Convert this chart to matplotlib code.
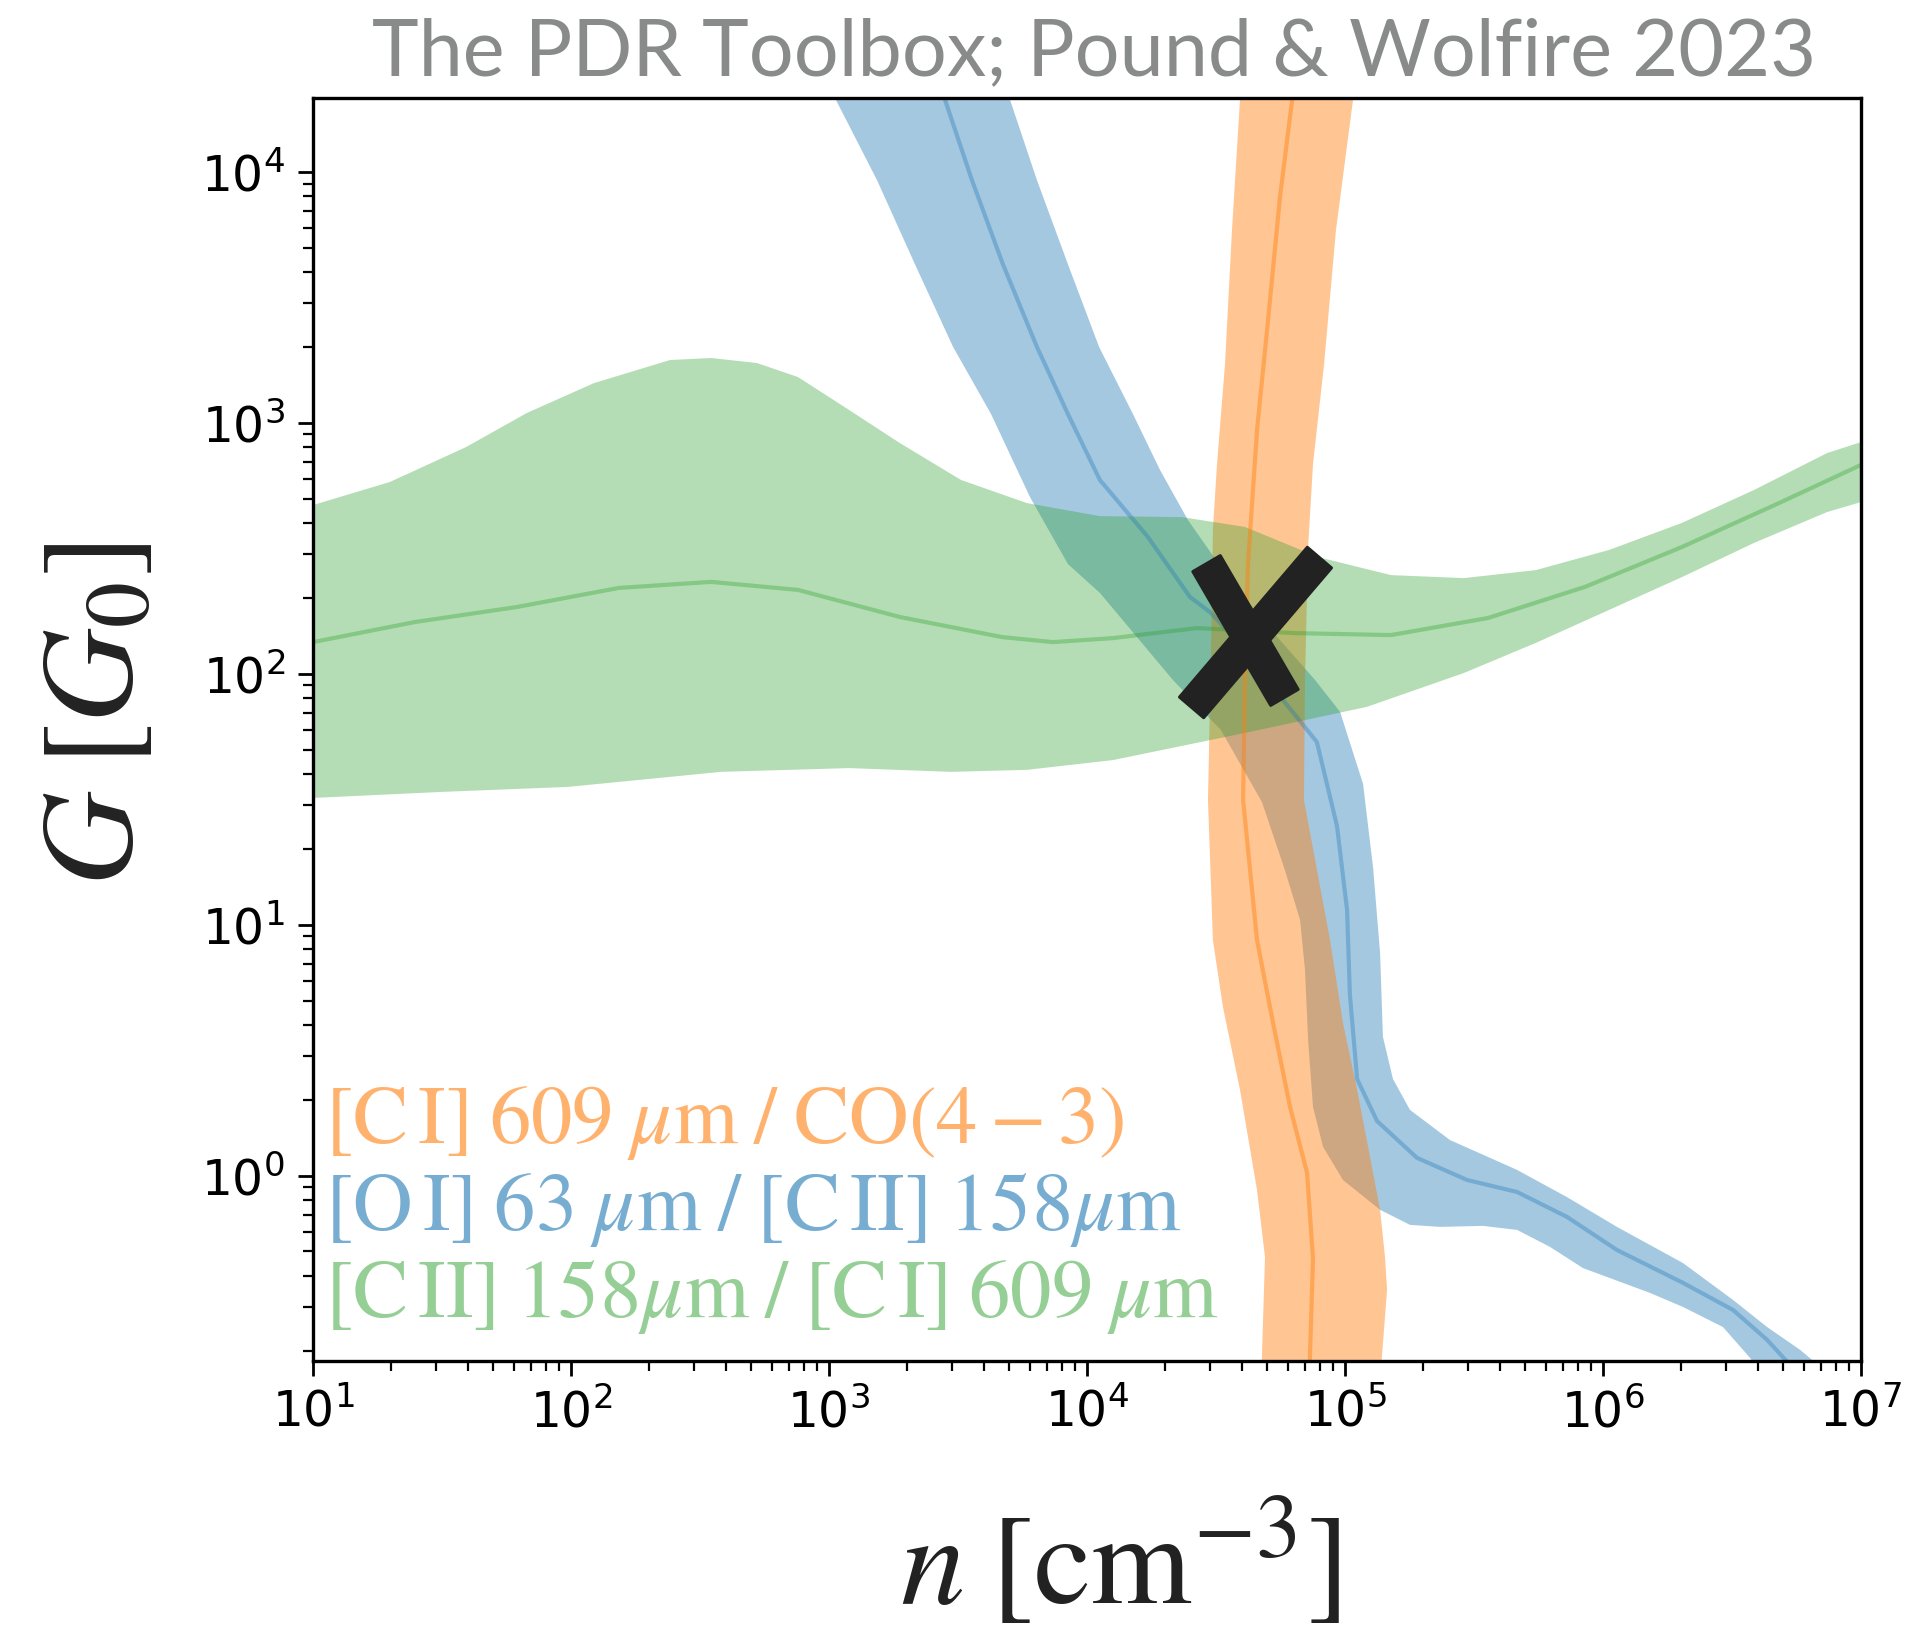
import numpy as np
import matplotlib
matplotlib.use("Agg")
import matplotlib.pyplot as plt
from matplotlib.path import Path
from matplotlib.ticker import LogLocator, NullFormatter

# values, stored as log10(n [cm^-3]) and log10(G [G0])

# [C I] 609um / CO(4-3)  -- orange, nearly vertical band
ci_co_left_logn = [4.601, 4.593, 4.562, 4.535, 4.504, 4.488, 4.481, 4.469, 4.488, 4.527, 4.593, 4.659, 4.690, 4.678, 4.674]
ci_co_left_logG = [4.367, 4.287, 3.769, 3.235, 2.837, 2.574, 2.108, 1.498, 0.940, 0.673, 0.343, -0.056, -0.323, -0.721, -0.813]
ci_co_right_logn = [5.039, 5.031, 4.965, 4.919, 4.876, 4.857, 4.845, 4.841, 4.942, 4.992, 5.047, 5.097, 5.136, 5.155, 5.163, 5.143, 5.136]
ci_co_right_logG = [4.367, 4.287, 3.769, 3.235, 2.837, 2.506, 1.976, 1.498, 0.940, 0.610, 0.343, 0.076, -0.135, -0.323, -0.454, -0.721, -0.813]
ci_co_mid_logn = [4.798, 4.795, 4.748, 4.698, 4.659, 4.624, 4.612, 4.605, 4.659, 4.721, 4.787, 4.853, 4.876, 4.864, 4.864]
ci_co_mid_logG = [4.367, 4.287, 3.900, 3.371, 2.972, 2.438, 1.976, 1.498, 0.940, 0.610, 0.275, 0.012, -0.331, -0.721, -0.813]

# [O I] 63um / [C II] 158um  -- blue band
oi_cii_left_logn = [3.004, 3.027, 3.186, 3.333, 3.481, 3.628, 3.779, 3.926, 4.050, 4.333, 4.519, 4.678, 4.767, 4.826,
                    4.845, 4.857, 4.876, 4.915, 4.992, 5.136, 5.252, 5.368, 5.535, 5.667, 5.795, 5.922, 6.182, 6.310,
                    6.465, 6.570, 6.647]
oi_cii_left_logG = [4.367, 4.287, 3.968, 3.633, 3.303, 3.036, 2.705, 2.438, 2.323, 1.976, 1.777, 1.490, 1.219, 1.020,
                    0.821, 0.542, 0.275, 0.116, -0.016, -0.135, -0.195, -0.203, -0.199, -0.215, -0.283, -0.367, -0.466,
                    -0.522, -0.602, -0.725, -0.833]
oi_cii_right_logn = [3.729, 3.702, 3.806, 3.926, 4.047, 4.178, 4.283, 4.391, 4.554, 4.748, 4.884, 4.981, 5.070, 5.109,
                     5.136, 5.147, 5.186, 5.252, 5.407, 5.667, 5.860, 6.054, 6.310, 6.504, 6.636, 6.764, 6.880]
oi_cii_right_logG = [4.367, 4.287, 3.968, 3.633, 3.303, 3.036, 2.813, 2.614, 2.375, 2.135, 1.976, 1.849, 1.562, 1.227,
                     0.888, 0.554, 0.386, 0.263, 0.143, 0.024, -0.084, -0.203, -0.347, -0.494, -0.602, -0.693, -0.793]
oi_cii_mid_logn = [3.430, 3.450, 3.554, 3.674, 3.806, 3.926, 4.050, 4.236, 4.399, 4.481, 4.593, 4.709, 4.760, 4.891,
                   4.969, 5.008, 5.019, 5.047, 5.124, 5.279, 5.473, 5.667, 5.860, 6.054, 6.310, 6.504, 6.636, 6.725]
oi_cii_mid_logG = [4.367, 4.287, 3.968, 3.633, 3.303, 3.036, 2.773, 2.546, 2.307, 2.243, 2.116, 1.976, 1.896, 1.729,
                   1.394, 1.060, 0.721, 0.386, 0.219, 0.072, -0.016, -0.064, -0.163, -0.295, -0.426, -0.534, -0.653,
                   -0.753]

# [C II] 158um / [C I] 609um  -- green band
cii_ci_upper_logn = [1.0, 1.298, 1.593, 1.829, 2.089, 2.384, 2.543, 2.721, 2.880, 3.078, 3.275, 3.512, 3.767, 4.050,
                     4.368, 4.612, 4.895, 5.178, 5.461, 5.740, 6.023, 6.306, 6.585, 6.868, 7.0]
cii_ci_upper_logG = [2.673, 2.765, 2.904, 3.040, 3.159, 3.251, 3.259, 3.239, 3.183, 3.052, 2.920, 2.773, 2.681, 2.629,
                     2.625, 2.586, 2.466, 2.394, 2.382, 2.414, 2.494, 2.602, 2.733, 2.880, 2.924]
cii_ci_lower_logn = [1.0, 1.496, 1.988, 2.581, 3.078, 3.473, 3.767, 4.101, 4.612, 5.085, 5.461, 5.740, 6.023, 6.306,
                     6.585, 6.868, 7.0]
cii_ci_lower_logG = [1.506, 1.530, 1.550, 1.610, 1.625, 1.610, 1.618, 1.657, 1.765, 1.869, 2.004, 2.124, 2.255, 2.386,
                     2.522, 2.645, 2.685]
cii_ci_mid_logn = [1.0, 1.395, 1.791, 2.186, 2.543, 2.880, 3.275, 3.671, 3.868, 4.101, 4.426, 4.802, 5.178, 5.554,
                   5.930, 6.306, 6.682, 7.0]
cii_ci_mid_logG = [2.127, 2.207, 2.267, 2.343, 2.367, 2.335, 2.227, 2.147, 2.127, 2.143, 2.183, 2.163, 2.155, 2.223,
                   2.347, 2.506, 2.681, 2.833]

# best fit solution
best_n = 4.2e4
best_G = 140.0

labels = [
    r"$\mathrm{[C\,I]\;609}\;\mu\mathrm{m\;/\;CO(4-3)}$",
    r"$\mathrm{[O\,I]\;63}\;\mu\mathrm{m\;/\;[C\,II]\;158}\mu\mathrm{m}$",
    r"$\mathrm{[C\,II]\;158}\mu\mathrm{m\;/\;[C\,I]\;609}\;\mu\mathrm{m}$",
]

DPI = 100


def band(ax, lo_n, lo_G, hi_n, hi_G, color, alpha):
    xs = np.concatenate([lo_n, hi_n[::-1]])
    ys = np.concatenate([lo_G, hi_G[::-1]])
    ax.fill(10 ** xs, 10 ** ys, color=color, alpha=alpha, lw=0)


def arm_marker(p0, p1, hw):
    """One stroke of the big X, as a closed marker path (units: pixels)."""
    p0, p1 = np.array(p0, float), np.array(p1, float)
    d = (p1 - p0) / np.hypot(*(p1 - p0))
    nrm = np.array([-d[1], d[0]]) * hw
    verts = [p0 + nrm, p1 + nrm, p1 - nrm, p0 - nrm, p0 + nrm]
    path = Path(verts, [Path.MOVETO] + [Path.LINETO] * 3 + [Path.CLOSEPOLY])
    size = 2 * np.abs(np.array(verts)).max() * 72 / DPI
    return path, size


fig = plt.figure(figsize=(19.06, 16.30), dpi=DPI)
ax = fig.add_axes([0.1642, 0.1650, 0.8122, 0.7748])

orange, blue, green = "#ff7f0e", "#1f77b4", "#2ca02c"

band(ax, np.array(oi_cii_left_logn), np.array(oi_cii_left_logG),
     np.array(oi_cii_right_logn), np.array(oi_cii_right_logG), blue, 0.40)
ax.plot(10 ** np.array(oi_cii_mid_logn), 10 ** np.array(oi_cii_mid_logG), color=blue, lw=3, alpha=0.35)

band(ax, np.array(ci_co_left_logn), np.array(ci_co_left_logG),
     np.array(ci_co_right_logn), np.array(ci_co_right_logG), orange, 0.45)
ax.plot(10 ** np.array(ci_co_mid_logn), 10 ** np.array(ci_co_mid_logG), color=orange, lw=3, alpha=0.45)

band(ax, np.array(cii_ci_lower_logn), np.array(cii_ci_lower_logG),
     np.array(cii_ci_upper_logn), np.array(cii_ci_upper_logG), green, 0.35)
ax.plot(10 ** np.array(cii_ci_mid_logn), 10 ** np.array(cii_ci_mid_logG), color=green, lw=3, alpha=0.35)

# the X marking the solution, two slightly skewed strokes
for p0, p1 in [((-42, 74), (36, -60)), ((71, 80), (-57, -70))]:
    path, size = arm_marker(p0, p1, 16)
    ax.plot([best_n], [best_G], marker=path, ms=size, color="#222222",
            mec="#222222", mew=2, ls="none", zorder=5)

ax.set_xscale("log")
ax.set_yscale("log")
ax.set_xlim(10, 1e7)
ax.set_ylim(0.183, 1.97e4)

for axis in (ax.xaxis, ax.yaxis):
    axis.set_major_locator(LogLocator(base=10, numticks=20))
    axis.set_minor_locator(LogLocator(base=10, subs=np.arange(2, 10), numticks=100))
    axis.set_minor_formatter(NullFormatter())

ax.tick_params(which="major", length=11, width=2.0, labelsize=35, pad=9)
ax.tick_params(which="minor", length=7, width=1.6)
for sp in ax.spines.values():
    sp.set_linewidth(2.4)

text_cols = [(orange, 0.6), (blue, 0.6), (green, 0.5)]
for lab, (c, a), yy in zip(labels, text_cols, [0.1726, 0.1037, 0.0348]):
    ax.text(0.008, yy, lab, transform=ax.transAxes, color=c, alpha=a, fontsize=59.5,
            math_fontfamily="stix", va="baseline", ha="left")

fig.text(0.050, 0.562, r"$G\;[G_0]$", rotation=90, fontsize=94, color="#222222",
         math_fontfamily="stix", ha="center", va="center")
fig.text(0.5876, 0.016, r"$n\;[\mathrm{cm}^{-3}]$", fontsize=93, color="#222222",
         math_fontfamily="stix", ha="center", va="baseline")

fig.text(0.574, 0.954, "The PDR Toolbox; Pound & Wolfire 2023", fontsize=57,
         family="Lato", color="#898b8a", ha="center", va="baseline")

fig.savefig("out.png", dpi=DPI)
